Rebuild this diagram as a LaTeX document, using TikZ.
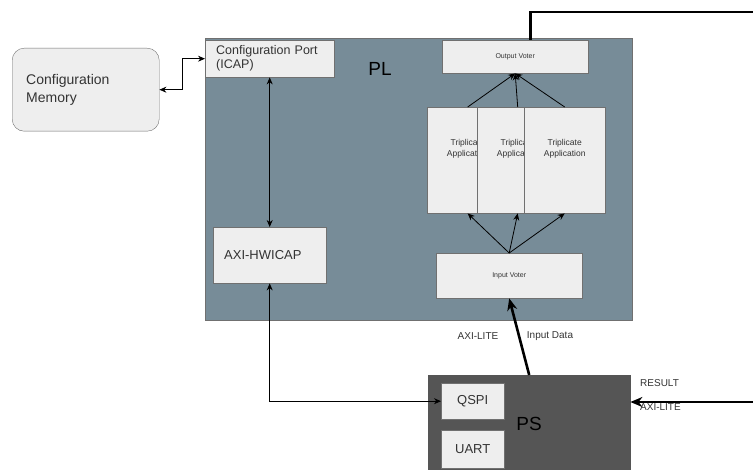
\documentclass[tikz,border=0pt]{standalone}
\usepackage{fontspec}
\setmainfont{Liberation Sans}
\usetikzlibrary{arrows.meta,positioning}
\definecolor{plfill}{HTML}{778C98}
\definecolor{psfill}{HTML}{555555}
\definecolor{boxfill}{HTML}{EEEEEE}
\definecolor{boxline}{HTML}{707070}
\definecolor{txt}{HTML}{333333}

\begin{document}
\begin{tikzpicture}[x=1pt, y=-1pt, font=\fontsize{13}{15}\selectfont, text=txt,
  box/.style={draw=boxline, fill=boxfill, inner sep=0pt, anchor=north west},
  tri/.style={box, minimum width=81, minimum height=106},
  lnk/.style={-{Stealth[length=7pt,width=6pt]}, line width=0.8pt},
  dlnk/.style={{Stealth[length=7pt,width=6pt]}-{Stealth[length=7pt,width=6pt]}, line width=0.8pt},
  bus/.style={-{Stealth[length=12pt,width=10pt]}, line width=2.6pt},
  lbl/.style={inner sep=0pt, font=\fontsize{10}{12}\selectfont},
  big/.style={text=black, font=\fontsize{19}{22}\selectfont}]
  \useasboundingbox (0,0) rectangle (753,470);
  % programmable logic
  \node[draw=boxline, fill=plfill, minimum width=427, minimum height=282, anchor=north west] (pl) at (205,38) {};
  \node[big] (pllbl) at (380,69) {PL};
  \node[box, rounded corners=12pt, minimum width=147, minimum height=83, text width=119, inner xsep=14pt, align=left,
    font=\fontsize{14}{18}\selectfont] (mem) at (12,48) {Configuration\\Memory};
  \node[box, minimum width=129, minimum height=37, text width=107, inner xsep=11pt, align=left,
    font=\fontsize{12.5}{14}\selectfont] (cfg) at (205,40) {Configuration Port\\(ICAP)};
  \node[box, minimum width=113, minimum height=56, text width=91, inner xsep=11pt, align=left] (hwicap) at (213,227) {AXI-HWICAP};
  \node[box, minimum width=146, minimum height=33, font=\fontsize{7}{8}\selectfont] (ov) at (442,40) {Output Voter};
  \foreach \i/\x in {1/427, 2/477, 3/524}
    \node[tri, label={[align=center, yshift=11pt, font=\fontsize{8.5}{11}\selectfont]center:{Triplicate\\Application}}] (tri\i) at (\x,107) {};
  \node[box, minimum width=146, minimum height=45, font=\fontsize{7}{8}\selectfont] (iv) at (436,253) {Input Voter};
  % processing system
  \node[draw=psfill, fill=psfill, minimum width=202, minimum height=100, anchor=north west] (ps) at (428,375) {};
  \node[big] (pslbl) at (529,424) {PS};
  \node[box, minimum width=63, minimum height=36] (qspi) at (441,383) {QSPI};
  \node[box, minimum width=63, minimum height=38] (uart) at (441,430) {UART};
  \coordinate (outR) at (753,12);
  \coordinate (resR) at (753,402);
  % connections
  \draw[dlnk] (mem.east) -- ++(23,0) |- (cfg.west);
  \draw[dlnk] (cfg.south) -- (hwicap.north);
  \draw[dlnk] (hwicap.south) |- (qspi.west);
  \foreach \i in {1,2,3} {
    \draw[lnk] (tri\i.north) -- (ov.south);
    \draw[lnk] (iv.north) -- (tri\i.south);
  }
  \draw[line width=2.6pt] ([xshift=15pt]ov.north) |- (outR);
  \draw[bus] (ps.north) -- (iv.south);
  \draw[bus] (resR) -- (resR -| ps.east);
  \node[lbl] (axiin) at (478,336) {AXI-LITE};
  \node[lbl] (indata) at (550,336) {Input Data};
  \node[lbl, anchor=west] (res) at (640,383) {RESULT};
  \node[lbl, anchor=west] (axiout) at (640,407) {AXI-LITE};
\end{tikzpicture}
\end{document}
